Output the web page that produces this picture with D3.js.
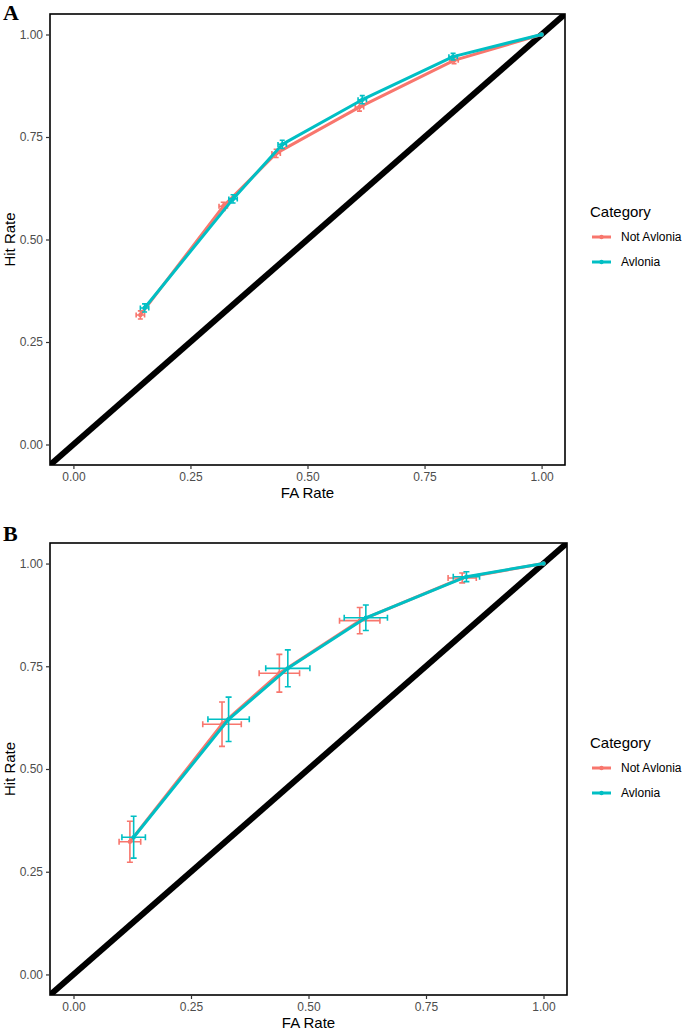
<!DOCTYPE html>
<html><head><meta charset="utf-8">
<script src="https://cdn.jsdelivr.net/npm/d3@7"></script>
<style>body{margin:0;background:#fff}svg{display:block}</style>
</head><body>
<svg id="c" width="685" height="1030"></svg>
<script>
const categories = ["Not Avlonia", "Avlonia"];
const colors = ["#F8766D", "#00BFC4"];
const ticks = [0, 0.25, 0.5, 0.75, 1];
const tickLabels = ["0.00", "0.25", "0.50", "0.75", "1.00"];

// Panel A
const aNotFA  = [0.143, 0.320, 0.433, 0.611, 0.813, 1.0];
const aNotHit = [0.316, 0.581, 0.710, 0.823, 0.937, 1.0];
const aNotFAerr  = [0.009, 0.009, 0.009, 0.009, 0.009, 0];
const aNotHiterr = [0.010, 0.010, 0.010, 0.010, 0.008, 0];
const aAvFA  = [0.152, 0.341, 0.446, 0.617, 0.811, 1.0];
const aAvHit = [0.333, 0.599, 0.732, 0.841, 0.946, 1.0];
const aAvFAerr  = [0.009, 0.009, 0.009, 0.009, 0.009, 0];
const aAvHiterr = [0.010, 0.010, 0.010, 0.010, 0.008, 0];

// Panel B
const bNotFA  = [0.120, 0.316, 0.438, 0.609, 0.827, 1.0];
const bNotHit = [0.323, 0.609, 0.733, 0.861, 0.965, 1.0];
const bNotFAerr  = [0.023, 0.041, 0.043, 0.043, 0.030, 0];
const bNotHiterr = [0.050, 0.054, 0.046, 0.032, 0.012, 0];
const bAvFA  = [0.128, 0.330, 0.456, 0.622, 0.836, 1.0];
const bAvHit = [0.334, 0.621, 0.745, 0.868, 0.968, 1.0];
const bAvFAerr  = [0.025, 0.044, 0.047, 0.046, 0.028, 0];
const bAvHiterr = [0.051, 0.054, 0.045, 0.031, 0.012, 0];

const svg = d3.select("#c");
const font = "Liberation Sans, Arial, sans-serif";

function panel(cfg) {
  const {left, right, top, bottom, label, labelY, series} = cfg;
  const x = d3.scaleLinear().domain([-0.05, 1.05]).range([left, right]);
  const y = d3.scaleLinear().domain([-0.05, 1.05]).range([bottom, top]);
  const g = svg.append("g");
  const id = "clip" + label;
  svg.append("clipPath").attr("id", id).append("rect")
    .attr("x", left).attr("y", top).attr("width", right - left).attr("height", bottom - top);

  // diagonal
  g.append("line").attr("clip-path", `url(#${id})`)
    .attr("x1", x(-0.05)).attr("y1", y(-0.05)).attr("x2", x(1.05)).attr("y2", y(1.05))
    .attr("stroke", "#000").attr("stroke-width", 6);

  const line = d3.line().x(d => x(d.fa)).y(d => y(d.hit));
  series.forEach((s, si) => {
    const data = s.fa.map((v, i) => ({fa: v, hit: s.hit[i], fe: s.fe[i], he: s.he[i]}));
    const sg = g.append("g");
    sg.append("path").datum(data).attr("d", line).attr("fill", "none")
      .attr("stroke", colors[si]).attr("stroke-width", 3).attr("stroke-linejoin", "round");
    const eb = data.filter(d => d.fe > 0 || d.he > 0);
    const cap = cfg.cap;
    eb.forEach(d => {
      const c = colors[si];
      const x0 = x(d.fa), y0 = y(d.hit);
      const ya = y(d.hit + d.he), yb = y(d.hit - d.he);
      const xa = x(d.fa - d.fe), xb = x(d.fa + d.fe);
      const pth = `M${x0},${ya}V${yb}M${x0-cap},${ya}H${x0+cap}M${x0-cap},${yb}H${x0+cap}` +
                  `M${xa},${y0}H${xb}M${xa},${y0-cap}V${y0+cap}M${xb},${y0-cap}V${y0+cap}`;
      sg.append("path").attr("d", pth).attr("fill", "none").attr("stroke", c).attr("stroke-width", 1.6);
    });
    sg.selectAll("circle").data(data).join("circle")
      .attr("cx", d => x(d.fa)).attr("cy", d => y(d.hit)).attr("r", 2.2).attr("fill", colors[si]);
  });

  // border
  g.append("rect").attr("x", left).attr("y", top).attr("width", right - left).attr("height", bottom - top)
    .attr("fill", "none").attr("stroke", "#000").attr("stroke-width", 1.6);

  // axes
  const xa = g.append("g").attr("transform", `translate(0,${bottom})`)
    .call(d3.axisBottom(x).tickValues(ticks).tickFormat((d, i) => tickLabels[i]).tickSize(4).tickPadding(3));
  const ya = g.append("g").attr("transform", `translate(${left},0)`)
    .call(d3.axisLeft(y).tickValues(ticks).tickFormat((d, i) => tickLabels[i]).tickSize(4).tickPadding(3));
  [xa, ya].forEach(a => {
    a.select(".domain").remove();
    a.selectAll(".tick line").attr("stroke", "#333").attr("stroke-width", 1.2);
    a.selectAll(".tick text").attr("fill", "#4d4d4d").style("font-family", font).style("font-size", "12px");
  });

  g.append("text").attr("x", (left + right) / 2).attr("y", bottom + 33).attr("text-anchor", "middle")
    .style("font-family", font).style("font-size", "15px").text("FA Rate");
  g.append("text").attr("transform", `translate(15,${(top + bottom) / 2}) rotate(-90)`).attr("text-anchor", "middle")
    .style("font-family", font).style("font-size", "15px").text("Hit Rate");

  g.append("text").attr("x", 3).attr("y", labelY).style("font-family", "Liberation Serif, Times New Roman, serif")
    .style("font-weight", "bold").style("font-size", "22px").text(label);

  // legend
  const ly = cfg.legendY;
  g.append("text").attr("x", 590).attr("y", ly).style("font-family", font).style("font-size", "15px").text("Category");
  categories.forEach((c, i) => {
    const yy = ly + 24 + i * 25;
    g.append("line").attr("x1", 592).attr("x2", 611).attr("y1", yy - 4).attr("y2", yy - 4)
      .attr("stroke", colors[i]).attr("stroke-width", 3);
    g.append("circle").attr("cx", 601.5).attr("cy", yy - 4).attr("r", 2.2).attr("fill", colors[i]);
    g.append("text").attr("x", 621).attr("y", yy).style("font-family", font).style("font-size", "12px").text(c);
  });
}

panel({left: 50, right: 565, top: 14, bottom: 465, label: "A", labelY: 20, legendY: 217, cap: 2.5,
  series: [
    {fa: aNotFA, hit: aNotHit, fe: aNotFAerr, he: aNotHiterr},
    {fa: aAvFA, hit: aAvHit, fe: aAvFAerr, he: aAvHiterr}
  ]});
panel({left: 50, right: 567, top: 543, bottom: 995, label: "B", labelY: 541, legendY: 748, cap: 3,
  series: [
    {fa: bNotFA, hit: bNotHit, fe: bNotFAerr, he: bNotHiterr},
    {fa: bAvFA, hit: bAvHit, fe: bAvFAerr, he: bAvHiterr}
  ]});
</script>
</body></html>
